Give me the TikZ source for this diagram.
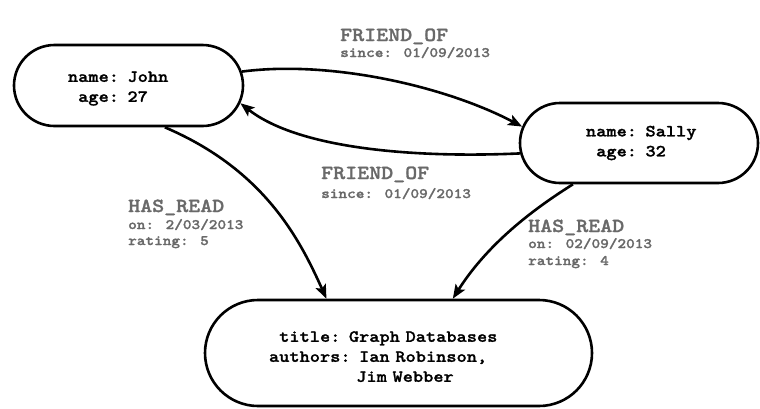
\documentclass[tikz,border=0pt]{standalone}
\usepackage{fontspec}
\newfontfamily\courlike[Extension=.otf, UprightFont=lmmono10-regular, BoldFont=lmmonolt10-bold, BoldFeatures={FakeBold=1.3}, FakeStretch=1.143]{lmmono10-regular}
\usetikzlibrary{shapes.misc,arrows.meta}
\definecolor{labelgray}{RGB}{105,105,105}
\begin{document}
\begin{tikzpicture}[x=1pt,y=-1pt,
  entity/.style={rounded rectangle, draw=black, line width=2.6pt, fill=white, align=left,
    font=\courlike\bfseries\fontsize{17}{20}\selectfont, inner sep=0pt},
  rel/.style={draw=black, line width=2.6pt, -{Stealth[length=14pt,width=11pt,inset=3pt]}},
  reltype/.style={anchor=base west, inner sep=0pt, text=labelgray,
    font=\courlike\bfseries\fontsize{20}{20}\selectfont},
  relprop/.style={anchor=base west, inner sep=0pt, text=labelgray,
    font=\courlike\bfseries\fontsize{14.4}{16}\selectfont}]
\fill[white] (0,0) rectangle (760,408);
\useasboundingbox (0,0) rectangle (760,408);

\node[entity, minimum width=229pt, minimum height=81pt, text width=121pt] (john) at (128.5,85.5)
  {\rule{0pt}{16.5pt}name: John\\\phantom{a}age: 27};
\node[entity, minimum width=238pt, minimum height=80pt, text width=118pt] (sally) at (639,143)
  {\hspace*{6pt}name: Sally\\\hspace*{6pt}\phantom{a}age: 32};
\node[entity, minimum width=387pt, minimum height=106pt, text width=259pt] (book) at (398.5,353)
  {\rule{0pt}{17.8pt}\phantom{a}title: Graph Databases\\authors: Ian Robinson,\\\phantom{authors:~}Jim Webber};

\draw[rel] (john.7) .. controls (330,60) and (445,86) .. (sally.172);
\draw[rel] (sally.185) .. controls (420,158) and (300,150) .. (john.-9);
\draw[rel] (john.-49) .. controls (265,170) and (300,240) .. (book.143);
\draw[rel] (sally.212) .. controls (540,205) and (490,240) .. (book.45);

\node[reltype] (fo1t) at (340,41) {FRIEND\_OF};
\node[relprop] (fo1s) at (340,57) {since: 01/09/2013};
\node[reltype] (fo2t) at (321,179) {FRIEND\_OF};
\node[relprop] (fo2s) at (321,198) {since: 01/09/2013};
\node[reltype] (hr1t) at (128,212) {HAS\_READ};
\node[relprop] (hr1o) at (128,229) {on: 2/03/2013};
\node[relprop] (hr1r) at (128,245) {rating: 5};
\node[reltype] (hr2t) at (528,232) {HAS\_READ};
\node[relprop] (hr2o) at (528,248) {on: 02/09/2013};
\node[relprop] (hr2r) at (528,265) {rating: 4};
\end{tikzpicture}
\end{document}
